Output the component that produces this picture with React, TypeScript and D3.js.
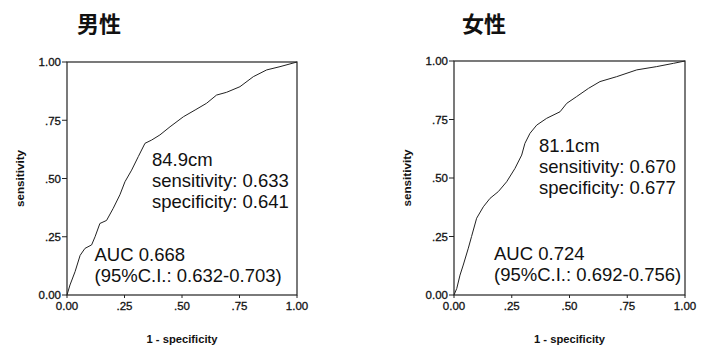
import React from "react";
import * as d3 from "d3";

// ROC curves: [1 - specificity, sensitivity]
const maleRoc: [number, number][] = [
  [0, 0], [0.013, 0.043], [0.035, 0.1], [0.057, 0.17], [0.078, 0.2], [0.107, 0.215],
  [0.122, 0.25], [0.143, 0.307], [0.172, 0.32], [0.201, 0.372], [0.23, 0.43],
  [0.252, 0.486], [0.281, 0.536], [0.31, 0.594], [0.339, 0.651], [0.368, 0.665],
  [0.404, 0.687], [0.448, 0.722], [0.506, 0.765], [0.557, 0.794], [0.607, 0.823],
  [0.65, 0.858], [0.694, 0.87], [0.752, 0.894], [0.81, 0.937], [0.868, 0.966],
  [0.926, 0.98], [1, 1],
];
const femaleRoc: [number, number][] = [
  [0, 0], [0.012, 0.028], [0.026, 0.085], [0.04, 0.128], [0.062, 0.2], [0.076, 0.25],
  [0.098, 0.328], [0.127, 0.377], [0.156, 0.413], [0.192, 0.442], [0.228, 0.484],
  [0.264, 0.541], [0.293, 0.598], [0.307, 0.648], [0.329, 0.691], [0.358, 0.726],
  [0.401, 0.755], [0.459, 0.783], [0.488, 0.819], [0.531, 0.848], [0.582, 0.883],
  [0.632, 0.912], [0.704, 0.933], [0.791, 0.962], [0.877, 0.976], [0.95, 0.99], [1, 1],
];

const tickValues = [0, 0.25, 0.5, 0.75, 1];
const tickLabels = ["0.00", ".25", ".50", ".75", "1.00"];

const panelTitles = ["男性", "女性"];
const cutoffLines = [
  ["84.9cm", "sensitivity: 0.633", "specificity: 0.641"],
  ["81.1cm", "sensitivity: 0.670", "specificity: 0.677"],
];
const aucLines = [
  ["AUC 0.668", "(95%C.I.: 0.632-0.703)"],
  ["AUC 0.724", "(95%C.I.: 0.692-0.756)"],
];

const font = "'Liberation Sans', Arial, sans-serif";

type PanelProps = {
  data: [number, number][];
  x0: number;
  x1: number;
  yTop: number;
  yBot: number;
  title: string;
  titleX: number;
  cutoff: string[];
  cutoffPos: [number, number];
  auc: string[];
  aucPos: [number, number];
};

const Panel = (p: PanelProps) => {
  const x = d3.scaleLinear().domain([0, 1]).range([p.x0, p.x1]);
  const y = d3.scaleLinear().domain([0, 1]).range([p.yBot, p.yTop]);
  const line = d3
    .line<[number, number]>()
    .x((d) => x(d[0]))
    .y((d) => y(d[1]));
  const midX = (p.x0 + p.x1) / 2;
  const lh = 21;

  return (
    <g fontFamily={font} fill="#111">
      <text x={p.titleX} y={32} fontSize={22} fontWeight="bold"
        fontFamily="'Noto Sans CJK JP', sans-serif">
        {p.title}
      </text>
      <rect x={p.x0} y={p.yTop} width={p.x1 - p.x0} height={p.yBot - p.yTop}
        fill="none" stroke="#222" strokeWidth={1.2} />
      {tickValues.map((t, i) => (
        <g key={"y" + i}>
          <line x1={p.x0 - 5} x2={p.x0} y1={y(t)} y2={y(t)} stroke="#222" />
          <text x={p.x0 - 6} y={y(t)} dy="0.38em" textAnchor="end" fontSize={11.5}
            stroke="#111" strokeWidth={0.3}>
            {tickLabels[i]}
          </text>
        </g>
      ))}
      {tickValues.map((t, i) => (
        <g key={"x" + i}>
          <line x1={x(t)} x2={x(t)} y1={p.yBot} y2={p.yBot + 3} stroke="#222" />
          <text x={x(t)} y={p.yBot + 15} textAnchor="middle" fontSize={11.5}
            stroke="#111" strokeWidth={0.3}>
            {tickLabels[i]}
          </text>
        </g>
      ))}
      <path d={line(p.data) || ""} fill="none" stroke="#222" strokeWidth={1} />
      <text transform={`translate(${p.x0 - 43},${(p.yTop + p.yBot) / 2}) rotate(-90)`}
        textAnchor="middle" fontSize={10.5} fontWeight="bold"
        textLength={57} lengthAdjust="spacingAndGlyphs">
        sensitivity
      </text>
      <text x={midX} y={343} textAnchor="middle" fontSize={10.5} fontWeight="bold"
        textLength={71} lengthAdjust="spacingAndGlyphs">
        1 - specificity
      </text>
      {p.cutoff.map((s, i) => (
        <text key={"c" + i} x={p.cutoffPos[0]} y={p.cutoffPos[1] + i * lh} fontSize={18.5}>
          {s}
        </text>
      ))}
      {p.auc.map((s, i) => (
        <text key={"a" + i} x={p.aucPos[0]} y={p.aucPos[1] + i * lh} fontSize={18.5}>
          {s}
        </text>
      ))}
    </g>
  );
};

export default function App() {
  return (
    <svg width={714} height={351} style={{ position: "absolute", left: 0, top: 0, background: "#fff" }}>
      <rect width={714} height={351} fill="#fff" />
      <Panel data={maleRoc} x0={67} x1={297} yTop={62} yBot={295}
        title={panelTitles[0]} titleX={77}
        cutoff={cutoffLines[0]} cutoffPos={[152, 166]}
        auc={aucLines[0]} aucPos={[94.5, 260.5]} />
      <Panel data={femaleRoc} x0={454} x1={685} yTop={61} yBot={295}
        title={panelTitles[1]} titleX={462}
        cutoff={cutoffLines[1]} cutoffPos={[539, 152]}
        auc={aucLines[1]} aucPos={[494, 260]} />
    </svg>
  );
}
